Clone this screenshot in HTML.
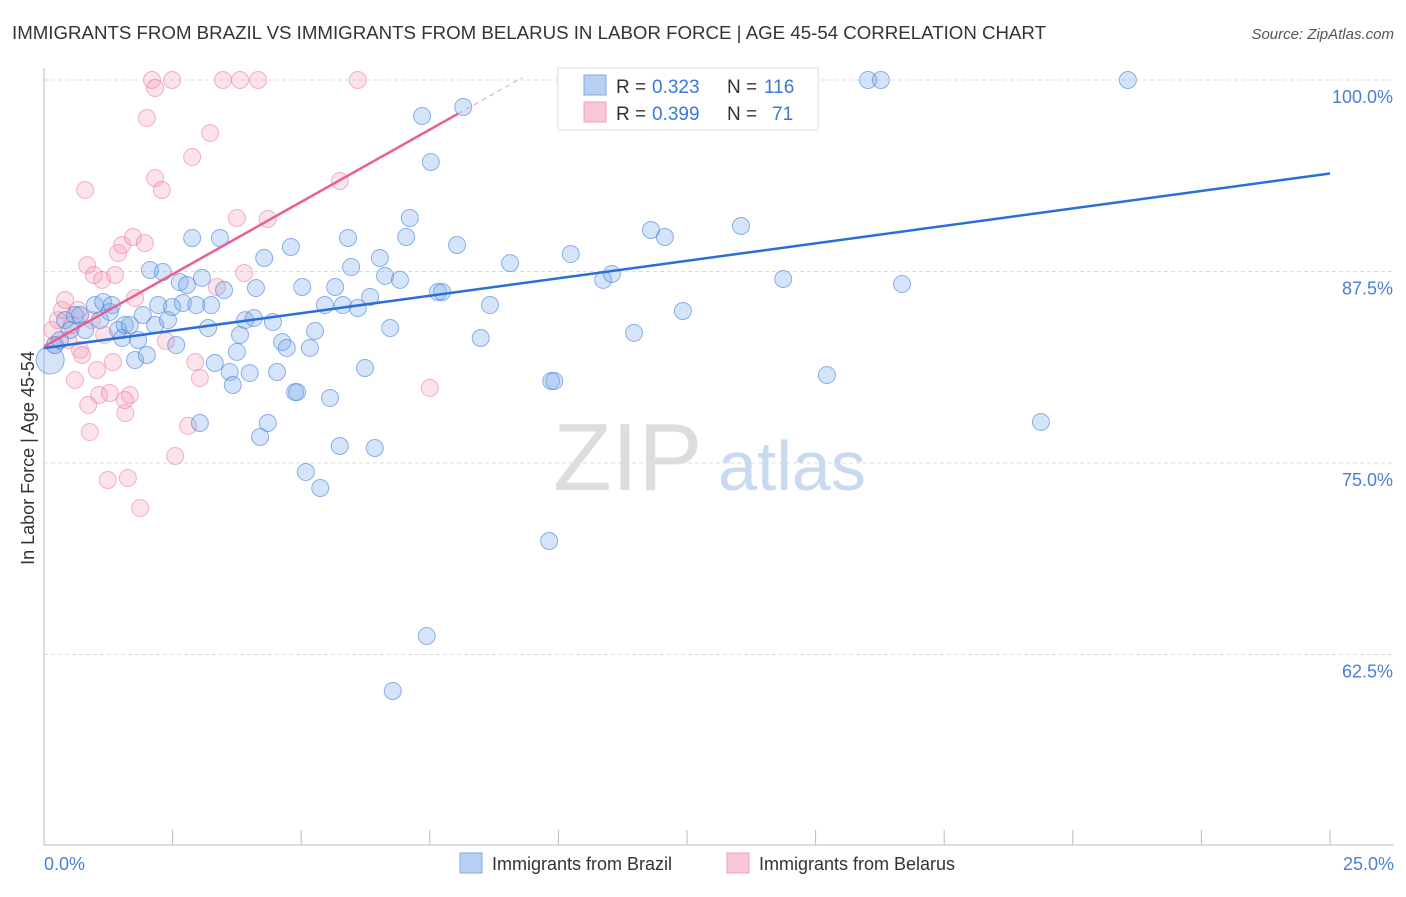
<!DOCTYPE html>
<html><head><meta charset="utf-8"><style>
body{margin:0;background:#fff;font-family:"Liberation Sans",sans-serif;}
svg text{font-family:"Liberation Sans",sans-serif;}
</style></head><body>
<svg width="1406" height="892">
<text x="12" y="39" font-size="18" fill="#333" textLength="1034" lengthAdjust="spacingAndGlyphs">IMMIGRANTS FROM BRAZIL VS IMMIGRANTS FROM BELARUS IN LABOR FORCE | AGE 45-54 CORRELATION CHART</text>
<text x="1394" y="39" font-size="15" fill="#555" text-anchor="end" font-style="italic">Source: ZipAtlas.com</text>
<g id="grid"></g>
<line x1="44" y1="68" x2="44" y2="845" stroke="#bbb"/>
<line x1="44" y1="845" x2="1394" y2="845" stroke="#bbb"/>
<text x="553" y="490" font-size="96" fill="#ddd" font-family="Liberation Serif">ZIP</text>
<text x="718" y="490" font-size="70" fill="#c9d9ef">atlas</text>
<g id="pts"></g>
<g id="lines"></g>
<text x="34" y="458" font-size="18" fill="#333" text-anchor="middle" transform="rotate(-90 34 458)">In Labor Force | Age 45-54</text>
<text x="44" y="870" font-size="18" fill="#4a7fd4">0.0%</text>
<text x="1394" y="870" font-size="18" fill="#4a7fd4" text-anchor="end">25.0%</text>
<g>
<rect x="558" y="68" width="260" height="62" fill="#fff" stroke="#ddd"/>
<rect x="584" y="75" width="22" height="20" fill="#b8d0f3" stroke="#7fa8e6"/>
<rect x="584" y="102" width="22" height="20" fill="#f9c7d5" stroke="#f0a0b8"/>
<text x="616" y="93" font-size="19" fill="#333">R =</text>
<text x="652" y="93" font-size="19" fill="#3b78d8">0.323</text>
<text x="727" y="93" font-size="19" fill="#333">N =</text>
<text x="764" y="93" font-size="19" fill="#3b78d8">116</text>
<text x="616" y="120" font-size="19" fill="#333">R =</text>
<text x="652" y="120" font-size="19" fill="#3b78d8">0.399</text>
<text x="727" y="120" font-size="19" fill="#333">N =</text>
<text x="772" y="120" font-size="19" fill="#3b78d8">71</text>
</g>
<g>
<rect x="460" y="853" width="22" height="20" fill="#b8d0f3" stroke="#7fa8e6"/>
<text x="492" y="870" font-size="18" fill="#333">Immigrants from Brazil</text>
<rect x="727" y="853" width="22" height="20" fill="#f9c7d5" stroke="#f0a0b8"/>
<text x="759" y="870" font-size="18" fill="#333">Immigrants from Belarus</text>
</g>
</svg>
<script>
const yTicks=[100,87.5,75,62.5];
const xTickCount=10;
const brazilX=[0.12,0.21,0.31,0.41,0.51,0.6,0.7,0.8,0.99,1.09,1.15,1.28,1.32,1.44,1.52,1.57,1.67,1.77,1.83,1.92,2.0,2.06,2.16,2.22,2.31,2.41,2.49,2.57,2.64,2.7,2.78,2.88,2.96,3.03,3.07,3.19,3.25,3.32,3.42,3.5,3.61,3.67,3.75,3.81,3.91,4.0,4.08,4.12,4.2,4.28,4.35,4.45,4.53,4.63,4.72,4.8,4.88,4.92,5.02,5.09,5.17,5.27,5.37,5.46,5.56,5.66,5.75,5.81,5.91,5.97,6.1,6.24,6.34,6.43,6.53,6.63,6.73,6.78,6.92,7.04,7.11,7.35,7.44,7.52,7.66,7.74,8.03,8.15,8.49,8.67,9.06,9.82,9.86,9.92,10.24,10.87,11.04,11.47,11.8,12.07,12.42,13.55,14.37,15.22,16.68,19.38,21.07,16.02,16.27,11.9,13.92];
const brazilY=[81.72,82.70,83.03,84.33,83.68,84.66,84.66,83.68,85.31,84.33,85.51,84.86,85.31,83.68,83.16,84.01,84.01,81.72,83.03,84.66,82.05,87.60,84.01,85.31,87.47,84.33,85.18,82.70,86.81,85.44,86.62,89.69,85.31,77.61,87.08,83.81,85.31,81.53,89.69,86.29,80.94,80.09,82.25,83.36,84.33,80.87,84.46,86.42,76.70,88.38,77.61,84.20,80.94,82.90,82.51,89.10,79.63,79.63,86.49,74.41,82.51,83.62,73.37,85.31,79.24,86.49,76.11,85.31,89.69,87.79,85.12,81.20,85.84,75.98,88.38,87.21,83.81,60.12,86.95,89.75,90.99,97.65,63.71,94.65,86.16,86.16,89.23,98.24,83.16,85.31,88.05,69.91,80.35,80.35,88.64,86.95,87.34,83.49,90.21,89.75,84.92,90.47,87.01,80.74,86.68,77.68,100,100,100,100,100];
const belarusX=[0.16,0.21,0.27,0.35,0.41,0.47,0.54,0.6,0.66,0.7,0.74,0.8,0.84,0.86,0.89,0.93,0.97,1.03,1.07,1.13,1.17,1.24,1.28,1.34,1.38,1.44,1.52,1.58,1.63,1.67,1.73,1.77,1.87,1.96,2.0,2.1,2.16,2.16,2.29,2.37,2.49,2.55,2.8,2.88,2.94,3.03,3.23,3.36,3.48,3.75,3.81,3.89,4.16,4.35,5.75,6.1,7.5,1.57];
const belarusY=[83.68,82.70,84.33,84.99,85.64,83.03,84.01,80.42,84.99,82.38,82.05,92.82,87.92,78.79,77.02,84.33,87.27,81.07,79.44,86.95,83.36,73.89,79.57,81.59,87.27,88.71,89.23,78.26,74.02,79.44,89.75,85.77,72.06,89.36,97.52,100,99.48,93.60,92.82,82.96,100,75.46,77.42,94.97,81.59,80.55,96.54,86.49,100,90.99,100,87.40,100,90.93,93.41,100,79.90,79.11];
const brazilTrend=[82.5,93.9];
const belarusTrend=[82.6,97.8];
const belarusTrendEndX=8.05, belarusDashEndX=9.3;
const NS='http://www.w3.org/2000/svg';
const X=v=>44+v/25*1286;
const Y=v=>80+(100-v)/12.5*191.5;
function mk(t,a,p){const e=document.createElementNS(NS,t);for(const k in a)e.setAttribute(k,a[k]);p.appendChild(e);return e;}
const grid=document.getElementById('grid');
yTicks.forEach((t,i)=>{
 const l=mk('line',{x1:44,x2:1394,y1:Y(t),y2:Y(t),stroke:'#ddd','stroke-dasharray':'4,3'},grid);
 
 
 const tx=mk('text',{x:1393,y:Y(t)+23,'font-size':18,fill:'#4a7fd4','text-anchor':'end'},grid);
 tx.textContent=t.toFixed(1)+'%';
 
 
});
for(let i=0;i<=xTickCount;i++){
 const l=mk('line',{x1:X(i*2.5),x2:X(i*2.5),y1:830,y2:845,stroke:'#bbb'},grid);
 
 
}
const pts=document.getElementById('pts');
belarusX.forEach((x,i)=>{
 const c=mk('circle',{cx:X(x),cy:Y(belarusY[i]),r:8.5,fill:'rgba(244,150,178,0.28)',stroke:'rgba(235,120,155,0.55)','stroke-width':1},pts);
 
 
});
brazilX.forEach((x,i)=>{
 const c=mk('circle',{cx:X(x),cy:Y(brazilY[i]),r:i==0?14:8.5,fill:'rgba(120,165,235,0.3)',stroke:'rgba(70,130,220,0.6)','stroke-width':1},pts);
 
 
});
const lines=document.getElementById('lines');
const bl=mk('line',{x1:X(0),y1:Y(brazilTrend[0]),x2:X(25),y2:Y(brazilTrend[1]),stroke:'#2b6fd6','stroke-width':2.5},lines);


const slope=(belarusTrend[1]-belarusTrend[0])/belarusTrendEndX;
const pl=mk('line',{x1:X(0),y1:Y(belarusTrend[0]),x2:X(belarusTrendEndX),y2:Y(belarusTrend[1]),stroke:'#e8608f','stroke-width':2.5},lines);


const pd=mk('line',{x1:X(belarusTrendEndX),y1:Y(belarusTrend[1]),x2:X(belarusDashEndX),y2:Y(belarusTrend[0]+slope*belarusDashEndX),stroke:'#e8a0b8','stroke-width':1,'stroke-dasharray':'5,4'},lines);


</script>
</body></html>
